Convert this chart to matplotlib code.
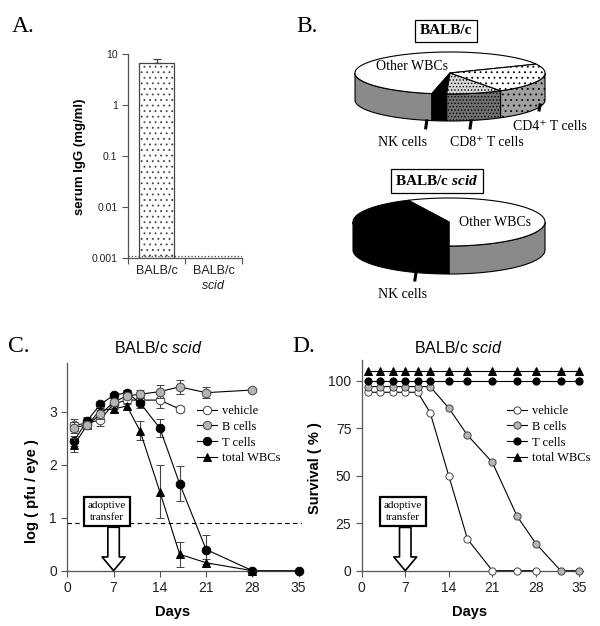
import numpy as np
import matplotlib.pyplot as plt
from matplotlib.patches import Polygon
from matplotlib.lines import Line2D

W, H = 600, 626

# panel A: serum IgG
igg_groups = ["BALB/c", "BALB/c\n$\\mathit{scid}$"]
igg_mean = [6.6]
igg_err = [1.5]
igg_limit = 0.0011

# panel B: blood composition
pie_labels_wt = ["Other WBCs", "NK cells", "CD8\u207a T cells", "CD4\u207a T cells"]
pie_values_wt = [65, 2.5, 9.5, 23]
pie_labels_scid = ["Other WBCs", "NK cells"]
pie_values_scid = [57, 43]

# panel C: virus titers
series_names = ["vehicle", "B cells", "T cells", "total WBCs"]
days_vehicle_c = [1, 3, 5, 7, 9, 11, 14, 17]
pfu_vehicle = [2.75, 2.78, 2.85, 3.15, 3.22, 3.22, 3.22, 3.05]
err_vehicle = [0.12, 0.1, 0.12, 0.1, 0.08, 0.1, 0.15, 0.05]
days_b_c = [1, 3, 5, 7, 9, 11, 14, 17, 21, 28]
pfu_b = [2.70, 2.75, 2.95, 3.18, 3.30, 3.33, 3.38, 3.47, 3.36, 3.41]
err_b = [0.1, 0.08, 0.08, 0.05, 0.05, 0.08, 0.12, 0.13, 0.11, 0.04]
days_t_c = [1, 3, 5, 7, 9, 11, 14, 17, 21, 28, 35]
pfu_t = [2.45, 2.83, 3.14, 3.31, 3.36, 3.17, 2.69, 1.64, 0.40, 0.0, 0.0]
err_t = [0.1, 0.08, 0.06, 0.05, 0.05, 0.1, 0.17, 0.33, 0.27, 0.0, 0.0]
days_wbc_c = [1, 3, 5, 7, 9, 11, 14, 17, 21, 28]
pfu_wbc = [2.37, 2.75, 3.03, 3.05, 3.11, 2.64, 1.49, 0.31, 0.15, 0.0]
err_wbc = [0.13, 0.08, 0.06, 0.05, 0.05, 0.18, 0.5, 0.24, 0.08, 0.0]
detect_limit = 0.9

# panel D: survival
days_d = [1, 3, 5, 7, 9, 11, 14, 17, 21, 25, 28, 32, 35]
surv_wbc = [105, 105, 105, 105, 105, 105, 105, 105, 105, 105, 105, 105, 105]
surv_t = [100, 100, 100, 100, 100, 100, 100, 100, 100, 100, 100, 100, 100]
surv_b = [97, 97, 97, 97, 97, 97, 85.7, 71.4, 57.1, 28.6, 14.3, 0, 0]
days_vehicle_d = [1, 3, 5, 7, 9, 11, 14, 17, 21, 25, 28]
surv_vehicle = [94, 94, 94, 94, 94, 83.3, 50, 16.7, 0, 0, 0]
transfer_day = 7

plt.rcParams['font.family'] = ['Liberation Sans', 'DejaVu Sans']
plt.rcParams['mathtext.fontset'] = 'custom'
plt.rcParams['mathtext.rm'] = 'Liberation Sans'
plt.rcParams['mathtext.it'] = 'Liberation Sans:italic'
plt.rcParams['mathtext.bf'] = 'Liberation Sans:bold'
plt.rcParams['mathtext.bfit'] = 'Liberation Serif:italic:bold'
plt.rcParams['hatch.linewidth'] = 0.6
SERIF = ['Liberation Serif', 'DejaVu Serif']

fig = plt.figure(figsize=(W / 100, H / 100), dpi=100)


def px_axes(x0, y0, x1, y1):
    return fig.add_axes([x0 / W, 1 - y1 / H, (x1 - x0) / W, (y1 - y0) / H])


def style_axes(ax, labelsize):
    for s in ["top", "right"]:
        ax.spines[s].set_visible(False)
    for s in ["left", "bottom"]:
        ax.spines[s].set_color("#555555")
        ax.spines[s].set_linewidth(0.9)
    ax.tick_params(direction="out", length=4, width=0.8, color="#555555",
                   labelcolor="#222222", labelsize=labelsize)


# ---------------- A ----------------
axa = px_axes(128, 54, 242, 258)
style_axes(axa, 7.5)
axa.set_yscale("log")
axa.set_ylim(0.001, 10)
axa.set_xlim(-0.5, 1.5)
axa.bar([0], igg_mean, width=0.63, bottom=0.001, color="white",
        edgecolor="#444444", hatch="...", lw=0.9, zorder=2)
axa.errorbar([0], igg_mean, yerr=[[0], igg_err], fmt="none", ecolor="#444444",
             elinewidth=0.9, capsize=3, capthick=0.9, zorder=3)
axa.axhline(igg_limit, color="#444444", ls=":", lw=0.9)
axa.set_yticks([0.001, 0.01, 0.1, 1, 10])
axa.set_yticklabels(["0.001", "0.01", "0.1", "1", "10"])
axa.minorticks_off()
axa.set_xticks([-0.5, 0.5, 1.5])
axa.set_xticklabels([])
axa.set_xticks([0, 1], minor=True)
axa.set_xticklabels(igg_groups, minor=True, fontsize=9, color="#222222")
axa.tick_params(axis="x", which="minor", length=0, pad=5)
fig.text(80 / W, 1 - 157 / H, "serum IgG (mg/ml)", rotation=90, ha="center",
         va="center", fontsize=9.5, fontweight="bold")

# ---------------- B ----------------
axp = fig.add_axes([0, 0, 1, 1], zorder=-1)
axp.set_xlim(0, W)
axp.set_ylim(H, 0)
axp.axis("off")


def pie3d(values, start, cx, cy, a, b, depth, tops, sides):
    fr = np.array(values, float) / np.sum(values)
    edges = start + 360 * np.concatenate([[0], np.cumsum(fr)])
    for i in range(len(fr)):
        th = np.radians(np.linspace(edges[i], edges[i + 1], 300))
        idx = np.where(np.sin(th) < 0)[0]
        if len(idx) > 1:
            runs = np.split(idx, np.where(np.diff(idx) > 1)[0] + 1)
            for r in runs:
                if len(r) < 2:
                    continue
                xs = cx + a * np.cos(th[r])
                ys = cy - b * np.sin(th[r])
                pts = np.vstack([np.column_stack([xs, ys]),
                                 np.column_stack([xs[::-1], ys[::-1] + depth])])
                fc, hatch = sides[i]
                axp.add_patch(Polygon(pts, closed=True, fc=fc, ec="black",
                                      hatch=hatch, lw=0.8, zorder=1))
    for i in range(len(fr)):
        th = np.radians(np.linspace(edges[i], edges[i + 1], 300))
        xs = cx + a * np.cos(th)
        ys = cy - b * np.sin(th)
        pts = np.vstack([[cx, cy], np.column_stack([xs, ys])])
        fc, hatch = tops[i]
        axp.add_patch(Polygon(pts, closed=True, fc=fc, ec="black",
                              hatch=hatch, lw=0.8, zorder=2))
    return edges


def leader(cx, cy, a, b, depth, ang, length=9):
    t = np.radians(ang)
    x = cx + a * np.cos(t)
    y = cy - b * np.sin(t) + depth
    axp.plot([x, x - 1.5], [y - 1, y + length], color="black", lw=2.2,
             solid_capstyle="butt", zorder=3)


pie3d(pie_values_wt, 25, 450, 73, 95, 21, 27,
      tops=[("white", None), ("black", None), ("#d8d8d8", "....."), ("white", "...")],
      sides=[("#8a8a8a", None), ("black", None), ("#707070", "....."), ("#a0a0a0", "...")])
leader(450, 73, 95, 21, 27, 256)
leader(450, 73, 95, 21, 27, 283)
leader(450, 73, 95, 21, 25, 342, 7)
axp.text(412, 67, pie_labels_wt[0], ha="center", va="center", fontsize=10, family=SERIF, zorder=4)
axp.text(402, 143, pie_labels_wt[1], ha="center", va="center", fontsize=10, family=SERIF)
axp.text(487, 143, pie_labels_wt[2], ha="center", va="center", fontsize=10, family=SERIF)
axp.text(550, 126, pie_labels_wt[3], ha="center", va="center", fontsize=10, family=SERIF)
axp.text(446, 31, "BALB/c", ha="center", va="center", fontsize=11, family=SERIF,
         fontweight="bold", bbox=dict(boxstyle="square,pad=0.3", fc="white", ec="black", lw=0.9))

pie3d(pie_values_scid, 270, 449, 222, 96, 24, 28,
      tops=[("white", None), ("black", None)],
      sides=[("#8a8a8a", None), ("black", None)])
leader(449, 222, 96, 24, 28, 250)
axp.text(495, 223, pie_labels_scid[0], ha="center", va="center", fontsize=10, family=SERIF, zorder=4)
axp.text(403, 295, pie_labels_scid[1], ha="center", va="center", fontsize=10, family=SERIF)
axp.text(437, 181, "BALB/c $\\mathbfit{scid}$", ha="center", va="center", fontsize=11,
         family=SERIF, fontweight="bold",
         bbox=dict(boxstyle="square,pad=0.3", fc="white", ec="black", lw=0.9))

# ---------------- C & D ----------------
vehicle_style = dict(marker="o", mfc="white", mec="#444444")
b_style = dict(marker="o", mfc="#b4b4b4", mec="#444444")
t_style = dict(marker="o", mfc="black", mec="black")
wbc_style = dict(marker="^", mfc="black", mec="black")
styles = [vehicle_style, b_style, t_style, wbc_style]


def draw_transfer(ax, bx, by, ytip, dy):
    ax.annotate("", xy=(transfer_day, ytip), xytext=(transfer_day, by - dy),
                arrowprops=dict(arrowstyle="simple,head_length=0.9,head_width=1.5,tail_width=0.75",
                                fc="white", ec="black", lw=1.2, mutation_scale=11,
                                shrinkA=0, shrinkB=0), annotation_clip=False, zorder=5)
    ax.text(bx, by, "adoptive\ntransfer", ha="center", va="center", fontsize=8,
            family=SERIF, linespacing=1.45, zorder=6,
            bbox=dict(boxstyle="square,pad=0.35", fc="white", ec="black", lw=1.6))


def add_legend(ax, x, y, ms):
    handles = [Line2D([], [], color="black", lw=0.8, ms=ms, mew=0.7, **s) for s in styles]
    ax.legend(handles, series_names, loc="upper left", bbox_to_anchor=(x / W, 1 - y / H),
              bbox_transform=fig.transFigure, frameon=False, borderpad=0, borderaxespad=0,
              handlelength=1.6, handletextpad=0.4, labelspacing=0.3,
              prop={"family": SERIF, "size": 9})


axc = px_axes(67.3, 363, 67.3 + 6.61 * 35.5, 570.7)
style_axes(axc, 10)
axc.set_xlim(0, 35.5)
axc.set_ylim(0, 3.92)
axc.set_xticks([0, 7, 14, 21, 28, 35])
axc.set_yticks([0, 1, 2, 3])
axc.axhline(detect_limit, color="black", ls="--", lw=0.8, dashes=(4, 3))
c_data = [(days_vehicle_c, pfu_vehicle, err_vehicle), (days_b_c, pfu_b, err_b),
          (days_t_c, pfu_t, err_t), (days_wbc_c, pfu_wbc, err_wbc)]
for (x, y, e), s, z in zip(c_data, styles, [3, 6, 4, 5]):
    axc.errorbar(x, y, yerr=e, color="black", lw=0.8, ms=6.2, mew=0.7,
                 ecolor="#444444", elinewidth=0.8, capsize=3, capthick=0.8,
                 clip_on=False, zorder=z, **s)
draw_transfer(axc, 6.0, 1.12, 0.0, 0.3)
add_legend(axc, 197, 405, 6)
fig.text(158 / W, 1 - 348 / H, "BALB/c $\\mathit{scid}$", ha="center", va="center", fontsize=11.5)
fig.text(173 / W, 1 - 612 / H, "Days", ha="center", va="center", fontsize=10.5, fontweight="bold")
fig.text(32 / W, 1 - 491 / H, "log ( pfu / eye )", rotation=90, ha="center", va="center",
         fontsize=10.5, fontweight="bold")

axd = px_axes(361.7, 360, 361.7 + 6.22 * 35.5, 570.7)
style_axes(axd, 10)
axd.set_xlim(0, 35.5)
axd.set_ylim(0, 111)
axd.set_xticks([0, 7, 14, 21, 28, 35])
axd.set_yticks([0, 25, 50, 75, 100])
d_data = [(days_vehicle_d, surv_vehicle), (days_d, surv_b), (days_d, surv_t), (days_d, surv_wbc)]
for (x, y), s, z in zip(d_data, styles, [3, 4, 5, 6]):
    axd.plot(x, y, color="black", lw=0.8, ms=5.2, mew=0.7, clip_on=False, zorder=z, **s)
draw_transfer(axd, 6.65, 31.3, 0.0, 8.5)
add_legend(axd, 506.7, 405, 5.2)
fig.text(458 / W, 1 - 348 / H, "BALB/c $\\mathit{scid}$", ha="center", va="center", fontsize=11.5)
fig.text(470 / W, 1 - 612 / H, "Days", ha="center", va="center", fontsize=10.5, fontweight="bold")
fig.text(315 / W, 1 - 468 / H, "Survival ( % )", rotation=90, ha="center", va="center",
         fontsize=10.5, fontweight="bold")

# panel letters
for lab, x, y in [("A.", 12, 26), ("B.", 296, 26), ("C.", 8, 347), ("D.", 292, 347)]:
    fig.text(x / W, 1 - y / H, lab, ha="left", va="center", fontsize=17, family=SERIF)

fig.savefig("out.png", dpi=100)
